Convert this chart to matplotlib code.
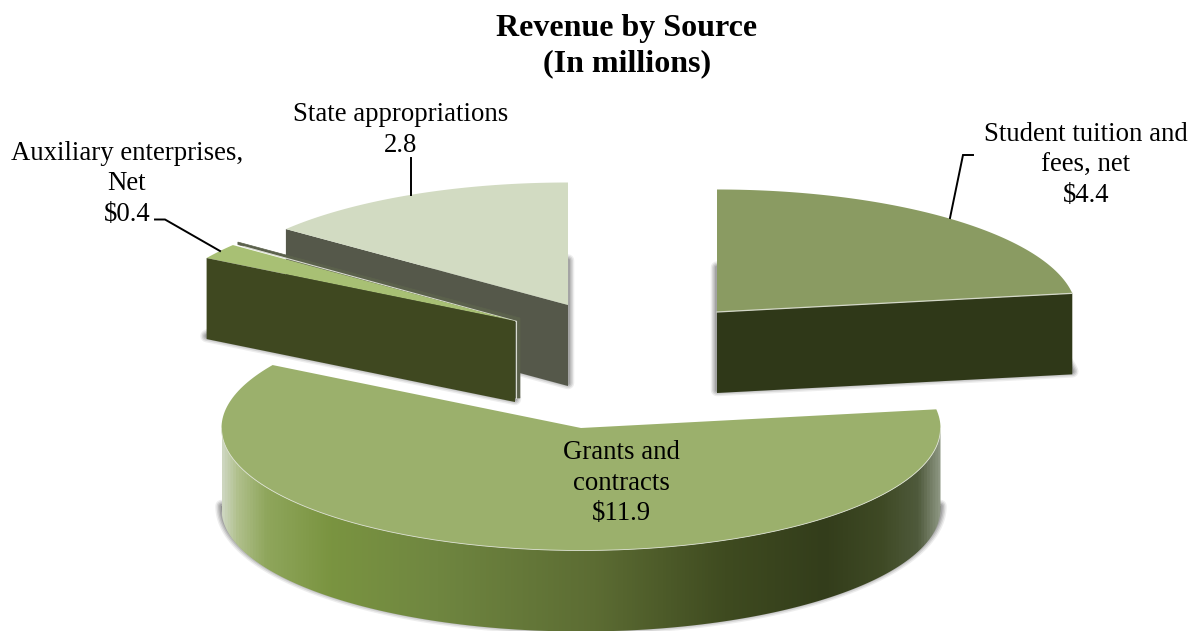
import numpy as np
import matplotlib
matplotlib.use('Agg')
import matplotlib.pyplot as plt
from matplotlib.colors import LinearSegmentedColormap
from matplotlib.patches import Polygon

plt.rcParams['font.family'] = ['Liberation Serif', 'DejaVu Serif']

# umsatz nach quelle, im uhrzeigersinn ab 12 uhr
categories = ['Student tuition and\nfees, net', 'Grants and\ncontracts', 'Auxiliary enterprises,\nNet', 'State appropriations']
values = np.array([4.4, 11.9, 0.4, 2.8])
value_labels = ['$4.4', '$11.9', '$0.4', '2.8']

top_colors = ['#8a9b62', '#9bb06c', '#a8c074', '#d2dbc2']
side_colors = ['#2f3818', None, '#3f4820', '#55584a']

# explodierte spitzen der segmente, in pixeln
apex = [(717, 312), (581, 428), (515, 321), (568, 305)]
Rx, Ry, depth = 359.5, 122.5, 81

edges = np.cumsum(np.concatenate([[0], values])) / values.sum() * 2 * np.pi
start = edges[:-1]
end = edges[1:]


def rim(c, a, b, n=200):
    th = np.linspace(a, b, n)
    return np.column_stack([c[0] + Rx * np.sin(th), c[1] - Ry * np.cos(th)])


def wedge(i):
    return np.vstack([[apex[i]], rim(apex[i], start[i], end[i])])


def shadow(ax, pts, z):
    # weicher schatten: bodenfläche mit mehreren breiten kanten
    pts = pts + [0, depth - 3]
    for lw, alpha in zip([9, 7, 5, 3], [0.12, 0.18, 0.24, 0.32]):
        ax.add_patch(Polygon(pts, closed=True, fc='#707070', ec='#707070', lw=lw, alpha=alpha,
                             joinstyle='round', zorder=z))


def side_face(ax, i, th, z):
    c = np.array(apex[i], dtype=float)
    p = rim(c, th, th, 1)[0]
    quad = np.array([p, c, c + [0, depth], p + [0, depth]])
    ax.add_patch(Polygon(quad, closed=True, fc=side_colors[i], ec='none', zorder=z))


fig = plt.figure(figsize=(11.94, 6.31), dpi=100)
ax = fig.add_axes([0, 0, 1, 1])
ax.set_xlim(0, 1194)
ax.set_ylim(631, 0)
ax.axis('off')

# state appropriations
shadow(ax, wedge(3), 1)
side_face(ax, 3, start[3], 2)
ax.add_patch(Polygon(wedge(3), closed=True, fc=top_colors[3], ec='none', zorder=3))

# auxiliary: schmale rückseite, dann deckel und vorderseite
shadow(ax, wedge(2), 4)
back = np.array(apex[2], dtype=float) + [5, -3]
back_out = rim(back, end[2], end[2], 1)[0]
back_poly = np.array([back_out, back, back + [0, depth - 1], back + [-5, depth - 1], back + [-5, 2.5], back_out + [0, 2.5]])
ax.add_patch(Polygon(back_poly, closed=True, fc='#5b614c', ec='#5b614c', lw=0.5, zorder=5))
ax.plot([back[0] - 4, back_out[0] + 6], [back[1] + 3.2, back_out[1] + 4.6], color='#d8dbd0', lw=0.8, zorder=5)
ax.plot([back[0] - 4, back[0] - 4], [back[1] + 3, back[1] + depth - 1], color='#d8dbd0', lw=0.8, zorder=5)
ax.add_patch(Polygon(wedge(2), closed=True, fc=top_colors[2], ec='none', zorder=6))
side_face(ax, 2, start[2], 7)

# student tuition
shadow(ax, wedge(0), 8)
side_face(ax, 0, end[0], 9)
ax.add_patch(Polygon(wedge(0), closed=True, fc=top_colors[0], ec='none', zorder=10))
edge0 = np.array([apex[0], rim(apex[0], end[0], end[0], 1)[0]])
ax.plot(edge0[:, 0], edge0[:, 1], color='#d4d8c8', lw=0.9, zorder=11)

# grants: aussenwand mit horizontalem verlauf
shadow(ax, rim(apex[1], np.pi / 2, 1.5 * np.pi), 12)
front_top = rim(apex[1], np.pi / 2, 1.5 * np.pi)
front_bot = front_top[::-1] + [0, depth]
wall = Polygon(np.vstack([front_top, front_bot]), closed=True, fc='none', ec='none', zorder=13)
ax.add_patch(wall)
x0, x1 = apex[1][0] - Rx, apex[1][0] + Rx
stops = [(0.0, '#cdd6bf'), (0.02, '#b0c08c'), (0.06, '#8fa65c'), (0.15, '#7a9440'), (0.30, '#6f8640'),
         (0.52, '#5c6c33'), (0.70, '#3f4b20'), (0.84, '#333d1b'), (0.92, '#3f4a25'), (0.97, '#4f5a3c'),
         (1.0, '#8d9682')]
cmap = LinearSegmentedColormap.from_list('wall', stops)
im = ax.imshow(np.linspace(0, 1, 512)[None, :], extent=[x0, x1, apex[1][1] + Ry + depth + 5, apex[1][1]],
               cmap=cmap, aspect='auto', zorder=13)
im.set_clip_path(wall)
ax.set_xlim(0, 1194)
ax.set_ylim(631, 0)
ax.add_patch(Polygon(wedge(1), closed=True, fc=top_colors[1], ec='none', zorder=14))
ax.plot(front_top[:, 0], front_top[:, 1], color='#dde2d2', lw=0.6, zorder=15)

# beschriftung
ax.text(627, 46, 'Revenue by Source\n(In millions)', ha='center', va='center', fontsize=23,
        fontweight='bold', linespacing=1.27, zorder=20)
label_pos = [(1086, 165), (621, 483), (127, 184), (401, 130)]
for name, val, pos in zip(categories, value_labels, label_pos):
    ax.text(pos[0], pos[1], name + '\n' + val, ha='center', va='center', fontsize=19.3,
            linespacing=1.29, color='black', zorder=20)

# führungslinien
leaders = [([950, 963, 973], [218, 155, 155]), ([411, 411], [195, 158]), ([220, 165, 155], [251, 219.5, 219.5])]
for lx, ly in leaders:
    ax.plot(lx, ly, color='black', lw=1.4, solid_joinstyle='miter', zorder=16)

fig.savefig('out.png', dpi=100)
